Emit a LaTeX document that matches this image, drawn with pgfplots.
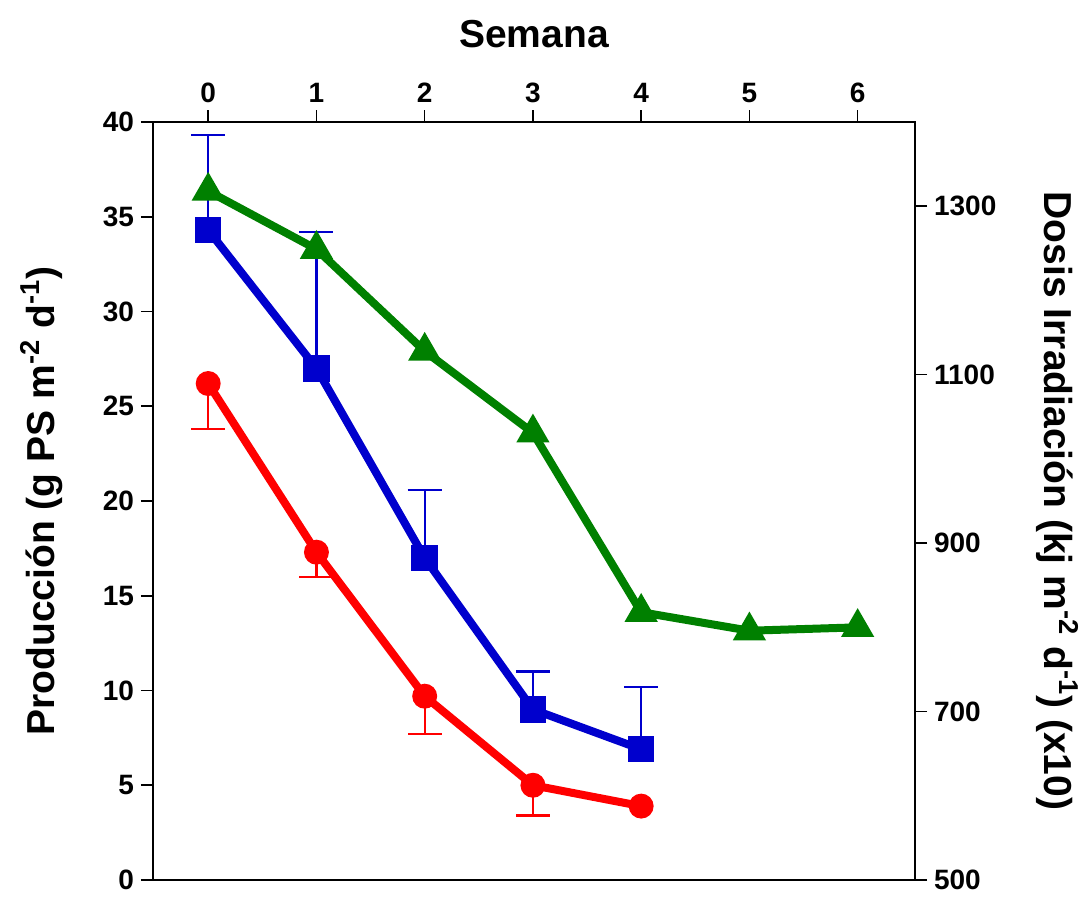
\documentclass[border=0pt]{standalone}
\usepackage{pgfplots}
\pgfplotsset{compat=1.18}
\usepackage{fontspec}
\setmainfont{Liberation Sans}
\definecolor{cblue}{RGB}{0,0,205}
\definecolor{cred}{RGB}{255,0,0}
\definecolor{cgreen}{RGB}{0,128,0}
\begin{document}
\begin{tikzpicture}
\useasboundingbox (0pt,0pt) rectangle (543pt,453.5pt);
\pgfplotsset{
  myax/.style={
    at={(76.5pt,13.5pt)}, anchor=south west,
    scale only axis, width=381pt, height=379pt,
    xmin=-0.51, xmax=6.53,
    tick align=outside, major tick length=6pt,
    every tick/.style={black, line width=0.8pt},
    axis line style={line width=0.9pt},
    tick label style={font=\fontsize{14}{16}\selectfont\bfseries},
    /pgf/number format/assume math mode=true,
    /pgf/number format/1000 sep={},
    label style={font=\fontsize{19.5}{22}\selectfont\bfseries},
  }
}
\begin{axis}[myax,
  ymin=0, ymax=40, ytick={0,5,...,40},
  xtick={0,...,6}, xtick pos=top, xticklabel pos=top,
  ytick pos=left,
  xlabel={Semana},
  ylabel={Producción (g PS m\textsuperscript{-2} d\textsuperscript{-1})},
  xlabel style={yshift=10.5pt},
  ylabel style={yshift=13pt},
]
% error bars (drawn first, under the lines)
\addplot[forget plot, draw=none, mark=none,
  error bars/.cd, y dir=plus, y explicit,
  error bar style={line width=1.1pt, draw=cblue},
  error mark options={rotate=90, mark size=8.5pt, line width=1.1pt, draw=cblue}]
  coordinates {
  (0,34.3) +- (0,5.0)
  (1,27.0) +- (0,7.2)
  (2,17.0) +- (0,3.6)
  (3,9.0) +- (0,2.0)
  (4,6.9) +- (0,3.3)
};
\addplot[forget plot, draw=none, mark=none,
  error bars/.cd, y dir=minus, y explicit,
  error bar style={line width=1.1pt, draw=cred},
  error mark options={rotate=90, mark size=8.5pt, line width=1.1pt, draw=cred}]
  coordinates {
  (0,26.2) +- (0,2.4)
  (1,17.3) +- (0,1.3)
  (2,9.7) +- (0,2.0)
  (3,5.0) +- (0,1.6)
};
\addplot[cblue, line width=4pt, mark=square*, mark size=4.6pt]
  coordinates {(0,34.3) (1,27.0) (2,17.0) (3,9.0) (4,6.9)};
\addplot[cred, line width=4pt, mark=*, mark size=4.2pt]
  coordinates {(0,26.2) (1,17.3) (2,9.7) (3,5.0) (4,3.9)};
\end{axis}
\begin{axis}[myax,
  ymin=500, ymax=1400, ytick={500,700,...,1300},
  xtick=\empty, axis x line=none, axis y line*=right,
  ylabel={Dosis Irradiación (kj m\textsuperscript{-2} d\textsuperscript{-1}) (x10)},
  ylabel style={rotate=180, yshift=13pt},
]
\addplot[cgreen, line width=4pt, mark=triangle*, mark size=5.6pt]
  coordinates {
  (0,1318) (1,1249) (2,1128) (3,1031) (4,818) (5,796) (6,800)
};
\end{axis}
\end{tikzpicture}
\end{document}
